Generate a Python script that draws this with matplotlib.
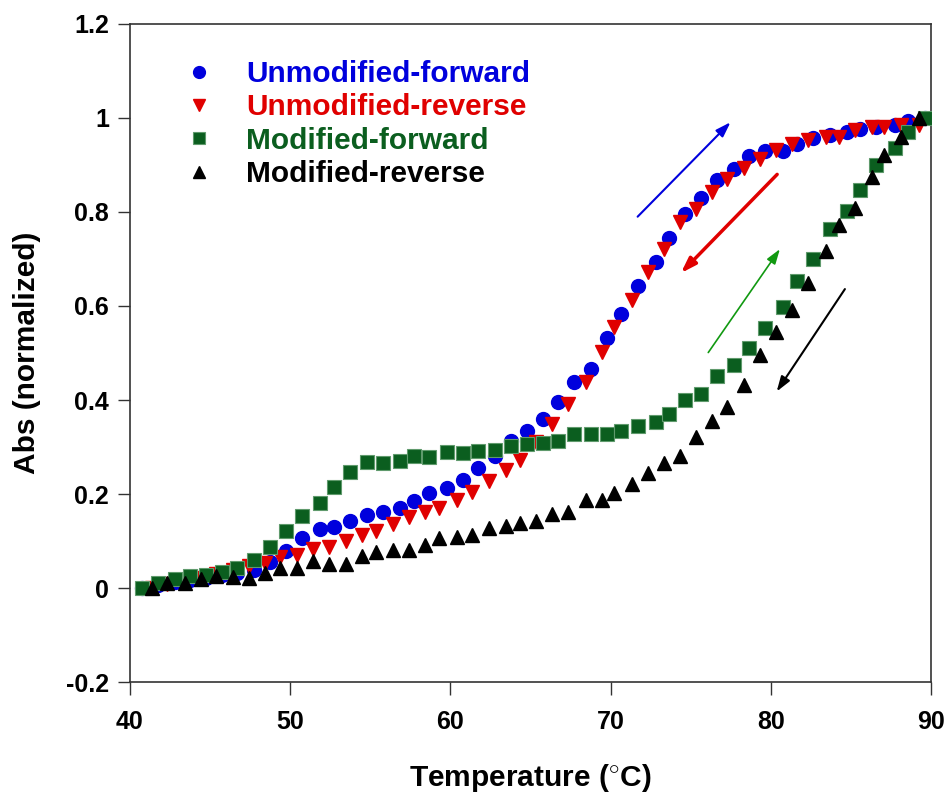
import matplotlib
matplotlib.use("Agg")
import matplotlib.pyplot as plt

# temperatures (deg C) for forward and reverse scans
t_fwd = [40.73, 41.75, 42.81, 43.75, 44.74, 45.72, 46.70, 47.74, 48.74, 49.74,
         50.72, 51.86, 52.73, 53.73, 54.77, 55.77, 56.85, 57.73, 58.68, 59.77,
         60.77, 61.74, 62.78, 63.76, 64.76, 65.76, 66.74, 67.73, 68.76, 69.76,
         70.67, 71.73, 72.83, 73.66, 74.66, 75.64, 76.62, 77.69, 78.64, 79.64,
         80.74, 81.67, 82.65, 83.69, 84.73, 85.57, 86.57, 87.75, 88.58, 89.63]
t_rev = [41.35, 42.33, 43.43, 44.41, 45.37, 46.45, 47.43, 48.43, 49.36, 50.40,
         51.40, 52.44, 53.48, 54.46, 55.36, 56.44, 57.44, 58.41, 59.31, 60.43,
         61.33, 62.43, 63.45, 64.34, 65.34, 66.36, 67.36, 68.45, 69.44, 70.23,
         71.32, 72.35, 73.35, 74.33, 75.33, 76.35, 77.27, 78.33, 79.33, 80.32,
         81.33, 82.34, 83.45, 84.28, 85.26, 86.30, 87.05, 88.15, 89.25]

unmod_fwd = [0.000, 0.006, 0.012, 0.017, 0.022, 0.027, 0.032, 0.038, 0.056, 0.079,
             0.106, 0.125, 0.130, 0.143, 0.155, 0.162, 0.171, 0.186, 0.203, 0.212,
             0.230, 0.255, 0.280, 0.312, 0.333, 0.360, 0.395, 0.439, 0.466, 0.531,
             0.582, 0.643, 0.694, 0.744, 0.795, 0.829, 0.868, 0.891, 0.919, 0.930,
             0.930, 0.944, 0.957, 0.964, 0.970, 0.976, 0.981, 0.985, 0.994, 1.000]
unmod_rev = [0.000, 0.008, 0.015, 0.022, 0.030, 0.038, 0.046, 0.054, 0.065, 0.070,
             0.083, 0.088, 0.101, 0.113, 0.121, 0.136, 0.152, 0.161, 0.170, 0.187,
             0.205, 0.228, 0.251, 0.272, 0.311, 0.348, 0.391, 0.439, 0.503, 0.556,
             0.612, 0.673, 0.721, 0.779, 0.806, 0.843, 0.870, 0.893, 0.912, 0.932,
             0.944, 0.954, 0.960, 0.959, 0.974, 0.980, 0.981, 0.985, 0.985]
mod_fwd = [0.000, 0.010, 0.019, 0.026, 0.028, 0.035, 0.042, 0.059, 0.088, 0.121,
           0.153, 0.181, 0.214, 0.246, 0.268, 0.265, 0.271, 0.281, 0.278, 0.290,
           0.288, 0.292, 0.294, 0.302, 0.306, 0.309, 0.313, 0.328, 0.328, 0.328,
           0.334, 0.344, 0.354, 0.370, 0.399, 0.413, 0.452, 0.474, 0.510, 0.553,
           0.597, 0.654, 0.699, 0.763, 0.802, 0.847, 0.899, 0.936, 0.971, 1.000]
mod_rev = [0.000, 0.010, 0.010, 0.019, 0.026, 0.023, 0.021, 0.031, 0.043, 0.042,
           0.057, 0.051, 0.051, 0.069, 0.077, 0.081, 0.081, 0.091, 0.106, 0.109,
           0.113, 0.128, 0.133, 0.138, 0.143, 0.157, 0.162, 0.187, 0.187, 0.203,
           0.221, 0.245, 0.267, 0.280, 0.322, 0.355, 0.385, 0.432, 0.496, 0.545,
           0.591, 0.648, 0.716, 0.772, 0.808, 0.874, 0.921, 0.960, 0.999]

labels = ["Unmodified-forward", "Unmodified-reverse",
          "Modified-forward", "Modified-reverse"]

# direction arrows: (tail_x, tail_y, head_x, head_y)
arrows = [(71.69, 0.790, 77.49, 0.991),
          (80.40, 0.880, 74.39, 0.670),
          (76.10, 0.501, 80.57, 0.721),
          (84.63, 0.636, 80.37, 0.418)]

BLUE = "#0000dd"
RED = "#e00000"
GREEN = "#0b5e1f"
BLACK = "#000000"

plt.rcParams["font.family"] = ["Liberation Sans", "DejaVu Sans"]
plt.rcParams["mathtext.fontset"] = "custom"
plt.rcParams["mathtext.rm"] = "Liberation Sans"

fig = plt.figure(figsize=(9.48, 8.02), dpi=100)
ax = fig.add_axes([0.1371, 0.1496, 0.8449, 0.8205])

ms = 10
ax.plot(t_fwd, unmod_fwd, "o", color=BLUE, ms=ms, mec=BLUE, label=labels[0], zorder=3)
ax.plot(t_rev, unmod_rev, "v", color=RED, ms=ms + 0.5, mec=RED, label=labels[1], zorder=4)
ax.plot(t_fwd, mod_fwd, "s", color=GREEN, ms=ms, mec="#5f9a6c", mew=0.8, label=labels[2], zorder=5)
ax.plot(t_rev, mod_rev, "^", color=BLACK, ms=ms + 0.5, mec=BLACK, label=labels[3], zorder=6)

arrow_colors = [BLUE, RED, "#119911", BLACK]
arrow_widths = [1.5, 2.5, 1.2, 1.5]
for (x0, y0, x1, y1), c, lw in zip(arrows, arrow_colors, arrow_widths):
    ax.annotate("", xy=(x1, y1), xytext=(x0, y0),
                arrowprops=dict(arrowstyle="-|>,head_length=0.9,head_width=0.3",
                                color=c, lw=lw, shrinkA=0, shrinkB=0))

ax.set_xlim(40, 90)
ax.set_ylim(-0.2, 1.2)
ax.set_xticks([40, 50, 60, 70, 80, 90])
ax.set_yticks([-0.2, 0, 0.2, 0.4, 0.6, 0.8, 1.0, 1.2])
ax.set_yticklabels(["-0.2", "0", "0.2", "0.4", "0.6", "0.8", "1", "1.2"])
ax.tick_params(direction="out", length=9, width=1, color="#333333", pad=6)
ax.tick_params(axis="x", pad=11)
ax.tick_params(top=False, right=False)
for lab in ax.get_yticklabels() + ax.get_xticklabels():
    lab.set_fontsize(18)
    lab.set_fontweight("bold")
for sp in ax.spines.values():
    sp.set_color("#333333")
    sp.set_linewidth(1.2)

ax.set_xlabel(r"Temperature ($^{\circ}$C)", fontsize=21.5,
              fontweight="bold", labelpad=20)
ax.set_ylabel("Abs (normalized)", fontsize=21.5, fontweight="bold", labelpad=18)

leg = ax.legend(loc="upper left", bbox_to_anchor=(0.034, 0.986), frameon=False,
                handletextpad=1.07, labelspacing=0.18,
                handlelength=1.0, markerscale=0.85,
                prop={"weight": "bold", "size": 21.5})
for txt, c in zip(leg.get_texts(), [BLUE, RED, GREEN, BLACK]):
    txt.set_color(c)

fig.savefig("out.png", dpi=100)
